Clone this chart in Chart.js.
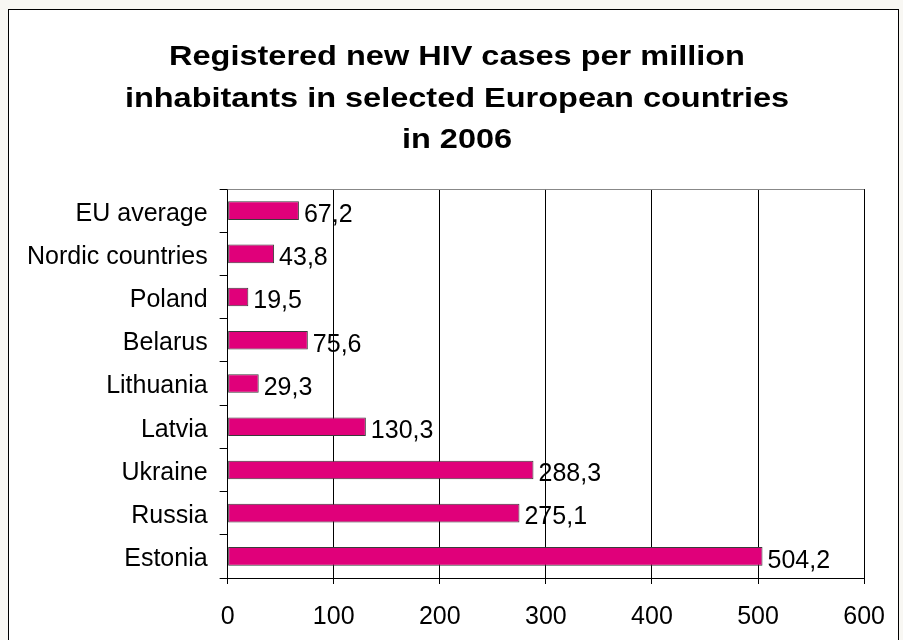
<!DOCTYPE html>
<html>
<head>
<meta charset="utf-8">
<script src="https://cdn.jsdelivr.net/npm/chart.js@4/dist/chart.umd.min.js"></script>
<style>
  html, body { margin: 0; padding: 0; background: #f8f7f3; overflow: hidden; }
  #frame {
    position: absolute; left: 8px; top: 9px; width: 889px; height: 700px;
    background: #fff; border: 1.5px solid #000;
  }
  #wrap { position: absolute; left: 0; top: 0; width: 903px; height: 650px; }
</style>
</head>
<body>
<div id="frame"></div>
<div id="wrap"><canvas id="hiv"></canvas></div>
<script>
var countries = ['EU average', 'Nordic countries', 'Poland', 'Belarus', 'Lithuania', 'Latvia', 'Ukraine', 'Russia', 'Estonia'];
var cases = [67.2, 43.8, 19.5, 75.6, 29.3, 130.3, 288.3, 275.1, 504.2];
var xTicks = [0, 100, 200, 300, 400, 500, 600];
var titleLines = ['Registered new HIV cases per million', 'inhabitants in selected European countries', 'in 2006'];

var FONT = "'Liberation Sans', Arial, sans-serif";

// the original title is a bit stretched sideways, so it is drawn by hand
var wideTitle = {
	id: 'wideTitle',
	afterDraw: function(chart) {
		var ctx = chart.ctx;
		var baselines = [65, 107, 148];
		ctx.save();
		ctx.font = 'bold 28px ' + FONT;
		ctx.fillStyle = '#000';
		ctx.textAlign = 'center';
		ctx.textBaseline = 'alphabetic';
		ctx.translate(457, 0);
		ctx.scale(1.16, 1);
		titleLines.forEach(function(t, i) {
			ctx.fillText(t, 0, baselines[i]);
		});
		ctx.restore();
	}
};

// value labels at the end of each bar, decimal comma like the original
var valueLabels = {
	id: 'valueLabels',
	afterDatasetsDraw: function(chart) {
		var ctx = chart.ctx;
		var meta = chart.getDatasetMeta(0);
		ctx.save();
		ctx.font = '25px ' + FONT;
		ctx.fillStyle = '#000';
		ctx.textAlign = 'left';
		ctx.textBaseline = 'alphabetic';
		meta.data.forEach(function(bar, i) {
			var txt = cases[i].toFixed(1).replace('.', ',');
			ctx.fillText(txt, bar.x + 5, bar.y + bar.height / 2 + 2);
		});
		ctx.restore();
	}
};

// thin grey line closing the plot area at the top
var plotTop = {
	id: 'plotTop',
	beforeDatasetsDraw: function(chart) {
		var a = chart.chartArea;
		var ctx = chart.ctx;
		ctx.save();
		ctx.strokeStyle = '#888';
		ctx.lineWidth = 1;
		ctx.beginPath();
		ctx.moveTo(a.left, a.top + 0.5);
		ctx.lineTo(a.right, a.top + 0.5);
		ctx.stroke();
		ctx.restore();
	}
};

var ctx = document.getElementById('hiv');

new Chart(ctx, {
	type: 'bar',
	data: {
		labels: countries,
		datasets: [{
			data: cases,
			backgroundColor: '#e0007a',
			borderColor: '#3a3a3a',
			borderWidth: 1,
			borderSkipped: false,
			barPercentage: 0.43,
			categoryPercentage: 1
		}]
	},
	options: {
		indexAxis: 'y',
		responsive: true,
		maintainAspectRatio: false,
		animation: false,
		layout: { padding: { left: 15, right: 12, top: 189, bottom: 0 } },
		plugins: {
			legend: { display: false },
			tooltip: { enabled: false },
			title: { display: false }
		},
		scales: {
			x: {
				min: 0,
				max: 600,
				afterBuildTicks: function(axis) {
					axis.ticks = xTicks.map(function(v) { return { value: v }; });
				},
				border: { color: '#000', width: 1 },
				grid: { color: '#000', lineWidth: 1, tickLength: 6, drawOnChartArea: true },
				ticks: { color: '#000', padding: 18, font: { family: FONT, size: 25 }, maxRotation: 0 }
			},
			y: {
				border: { color: '#000', width: 1 },
				grid: { offset: true, drawOnChartArea: false, color: '#000', tickLength: 8 },
				ticks: { color: '#000', padding: 12, labelOffset: 3, font: { family: FONT, size: 25 } }
			}
		}
	},
	plugins: [valueLabels, plotTop, wideTitle]
});
</script>
</body>
</html>
